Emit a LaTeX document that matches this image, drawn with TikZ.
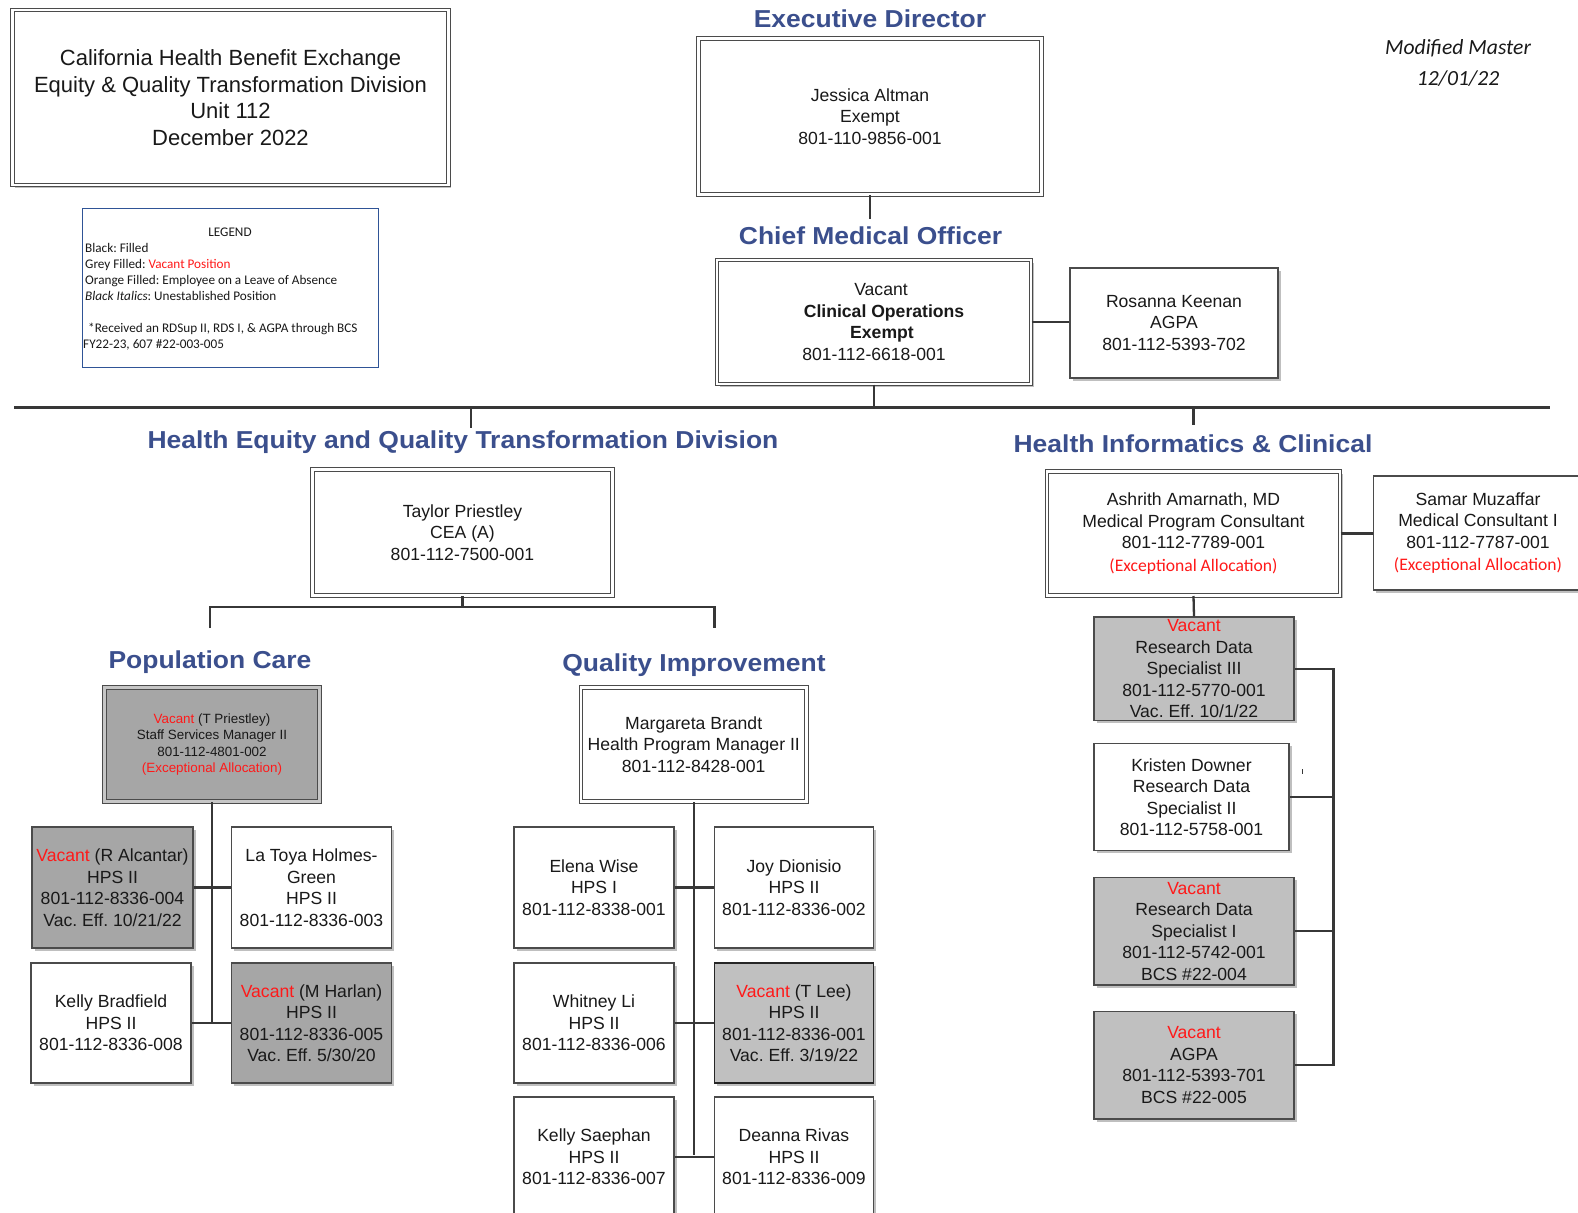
\documentclass[tikz,border=0pt]{standalone}
\usepackage{fontspec}
\setmainfont{Liberation Sans}
\newfontfamily\calfont{Carlito}
\newfontfamily\hdfont[FakeStretch=1.08]{Liberation Sans}
\usetikzlibrary{shadows}
\frenchspacing
\definecolor{hdc}{RGB}{59,79,141}
\definecolor{vred}{RGB}{255,25,25}
\definecolor{lnc}{RGB}{55,55,55}
\definecolor{bdc}{RGB}{75,75,75}
\definecolor{txt}{RGB}{25,25,25}
\definecolor{gdark}{RGB}{166,166,166}
\definecolor{glight}{RGB}{192,192,192}
\definecolor{lgb}{RGB}{47,84,150}
\newcommand{\vac}{\textcolor{vred}{Vacant}}
\newcommand{\exal}{{\calfont\color{vred}(Exceptional Allocation)}}
\tikzset{
  bx/.style={draw=bdc, line width=1.15pt, fill=white, align=center, inner sep=0pt, text=txt,
    font=\fontsize{17.6}{21.5}\selectfont,
    drop shadow={shadow xshift=2.5pt, shadow yshift=-2.5pt, opacity=0.25, fill=black}},
  dbx/.style={bx, double=white, double distance=2.4pt, line width=1pt},
  hd/.style={text=hdc, font=\hdfont\bfseries\fontsize{24.5}{28}\selectfont, inner sep=0pt},
  conn/.style={draw=lnc, line width=2.3pt},
  lgt/.style={font=\calfont\fontsize{13.2}{16}\selectfont, text=txt, inner sep=0pt, anchor=base west},
}
\begin{document}
\begin{tikzpicture}[x=1pt,y=-1pt]
\useasboundingbox (0,0) rectangle (1578,1212);
\fill[white] (0,0) rectangle (1578,1212);
\clip (0,0) rectangle (1578,1212);

% title and legend
\node[dbx, minimum width=436pt, minimum height=175pt, font=\fontsize{22}{26.5}\selectfont] (title) at (230.5,97.5)
  {California Health Benefit Exchange\\Equity \& Quality Transformation Division\\Unit 112\\December 2022};
\node[draw=lgb, line width=1pt, minimum width=296pt, minimum height=159pt, inner sep=0pt] (legend) at (230,288) {};
\node[lgt, anchor=base] (lg0) at (230,236) {LEGEND};
\node[lgt] (lg1) at (85,252) {Black: Filled};
\node[lgt] (lg2) at (85,268) {Grey Filled: \textcolor{vred}{Vacant Position}};
\node[lgt] (lg3) at (85,284) {Orange Filled: Employee on a Leave of Absence};
\node[lgt] (lg4) at (85,300) {\textit{Black Italics}: Unestablished Position};
\node[lgt] (lg5) at (88,332.5) {*Received an RDSup II, RDS I, \& AGPA through BCS};
\node[lgt] (lg6) at (83,348.5) {FY22-23, 607 \#22-003-005};

\node[font=\calfont\itshape\fontsize{21.6}{31}\selectfont, align=center, text=txt, inner sep=0pt] (mm) at (1458,63)
  {Modified Master\\12/01/22};

% headings
\node[hd] (hED) at (870,19) {Executive Director};
\node[hd] (hCMO) at (870.5,236) {Chief Medical Officer};
\node[hd] (hHE) at (463,442) {Health Equity and Quality Transformation Division};
\node[hd] (hHI) at (1193,443.5) {Health Informatics \& Clinical};
\node[hd] (hPC) at (210,662) {Population Care};
\node[hd] (hQI) at (694,665) {Quality Improvement};

% top
\node[dbx, minimum width=343pt, minimum height=156pt] (ed) at (870,116.5)
  {Jessica Altman\\Exempt\\801-110-9856-001};
\node[dbx, minimum width=314pt, minimum height=124pt] (cmo) at (874,322)
  {\hspace*{14pt}Vacant\\\hspace*{20pt}\textbf{Clinical Operations}\\\hspace*{16pt}\textbf{Exempt}\\801-112-6618-001};
\node[bx, minimum width=208pt, minimum height=110pt] (rk) at (1174,323)
  {Rosanna Keenan\\AGPA\\801-112-5393-702};

% division
\node[dbx, minimum width=300pt, minimum height=126pt] (tp) at (462.5,532.5)
  {Taylor Priestley\\CEA (A)\\801-112-7500-001};
\node[dbx, fill=gdark, double=gray!45, minimum width=215pt, minimum height=114pt,
  font=\fontsize{13.4}{16.1}\selectfont] (pc) at (212,744.5)
  {\vac{} (T Priestley)\\Staff Services Manager II\\801-112-4801-002\\\textcolor{vred}{(Exceptional Allocation)}};
\node[dbx, minimum width=225.5pt, minimum height=114pt] (qi) at (693.7,744.5)
  {Margareta Brandt\\Health Program Manager II\\801-112-8428-001};

\node[bx, fill=gdark, minimum width=161pt, minimum height=121pt] (ra) at (112.5,887.5)
  {\vac{} (R Alcantar)\\HPS II\\801-112-8336-004\\Vac. Eff. 10/21/22};
\node[bx, minimum width=160pt, minimum height=121pt] (lt) at (311.5,887.5)
  {La Toya Holmes-\\Green\\HPS II\\801-112-8336-003};
\node[bx, minimum width=160pt, minimum height=120pt] (kb) at (111,1023)
  {Kelly Bradfield\\HPS II\\801-112-8336-008};
\node[bx, fill=gdark, minimum width=160pt, minimum height=120pt] (mh) at (311.5,1023)
  {\vac{} (M Harlan)\\HPS II\\801-112-8336-005\\Vac. Eff. 5/30/20};

\node[bx, minimum width=160pt, minimum height=121pt] (ew) at (594,887.5)
  {Elena Wise\\HPS I\\801-112-8338-001};
\node[bx, minimum width=159pt, minimum height=121pt] (jd) at (794,887.5)
  {Joy Dionisio\\HPS II\\801-112-8336-002};
\node[bx, minimum width=160pt, minimum height=120pt] (wl) at (594,1023)
  {Whitney Li\\HPS II\\801-112-8336-006};
\node[bx, fill=glight, draw=black!85, minimum width=159pt, minimum height=120pt] (tl) at (794,1023)
  {\vac{} (T Lee)\\HPS II\\801-112-8336-001\\Vac. Eff. 3/19/22};
\node[bx, minimum width=160pt, minimum height=120pt] (ks) at (594,1157)
  {Kelly Saephan\\HPS II\\801-112-8336-007};
\node[bx, minimum width=159pt, minimum height=120pt] (dr) at (794,1157)
  {Deanna Rivas\\HPS II\\801-112-8336-009};

% informatics
\node[dbx, minimum width=293pt, minimum height=124pt] (aa) at (1193.5,533.5)
  {Ashrith Amarnath, MD\\Medical Program Consultant\\801-112-7789-001\\[1pt]\exal};
\node[bx, minimum width=208.6pt, minimum height=114pt] (sm) at (1478,533)
  {Samar Muzaffar\\Medical Consultant I\\801-112-7787-001\\[1pt]\exal};
\node[bx, fill=glight, minimum width=200pt, minimum height=103.6pt] (r3) at (1194,668.8)
  {\vac\\Research Data\\Specialist III\\801-112-5770-001\\Vac. Eff. 10/1/22};
\node[bx, minimum width=195pt, minimum height=106.7pt] (kd) at (1191.5,797)
  {Kristen Downer\\Research Data\\Specialist II\\801-112-5758-001};
\node[bx, fill=glight, minimum width=200pt, minimum height=107.4pt] (r1) at (1194,931.3)
  {\vac\\Research Data\\Specialist I\\801-112-5742-001\\BCS \#22-004};
\node[bx, fill=glight, minimum width=200pt, minimum height=107.6pt] (ag) at (1194,1065.2)
  {\vac\\AGPA\\801-112-5393-701\\BCS \#22-005};

% connectors
\coordinate (edE) at (870,219);
\draw[conn] (ed.south) -- (edE);
\coordinate (hL) at (14,407.6);
\coordinate (hR) at (1550,407.6);
\draw[conn] (hL) -- (hR);
\draw[conn] (cmo.south) -- (cmo.south |- hL);
\draw[conn] (cmo.east) -- (cmo.east -| rk.west);
\coordinate (dHE) at (471,428);
\draw[conn] (dHE |- hL) -- (dHE);
\coordinate (dHI) at (1193.6,425);
\draw[conn] (dHI |- hL) -- (dHI);

\coordinate (tpJ) at (462.5,607);
\coordinate (pcT) at (210,628);
\coordinate (qiT) at (714.5,628);
\draw[conn] (tp.south) -- (tpJ);
\draw[conn] (pcT) -- (pcT |- tpJ) -- (qiT |- tpJ) -- (qiT);

\coordinate (pcB) at (212,1023.5);
\draw[conn] (pc.south) -- (pcB);
\draw[conn] (ra.east) -- (lt.west);
\draw[conn] (kb.east) -- (mh.west);

\coordinate (qiB) at (693.7,1155.4);
\draw[conn] (qi.south) -- (qiB);
\draw[conn] (ew.east) -- (jd.west);
\draw[conn] (wl.east) -- (tl.west);
\draw[conn] (ks.east) -- (dr.west);

\draw[conn] (aa.east) -- (aa.east -| sm.west);
\draw[conn] (aa.south) -- (r3.north);
\coordinate (brX) at (1333.5,0);
\draw[conn] (r3.east) -- (r3.east -| brX) -- (brX |- ag.east) -- (ag.east);
\draw[conn] (kd.east) -- (kd.east -| brX);
\draw[conn] (r1.east) -- (r1.east -| brX);
\draw[lnc, line width=0.8pt] (1302,769) -- (1302,774);
\end{tikzpicture}
\end{document}
